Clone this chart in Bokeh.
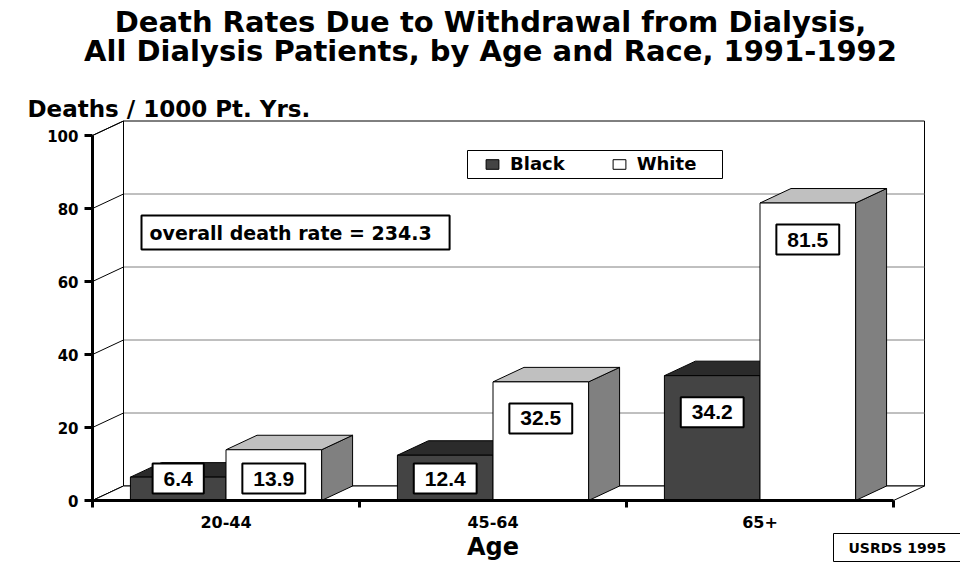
from bokeh.plotting import figure
from bokeh.models import (Range1d, FixedTicker, Label, Legend, LegendItem, LinearAxis)
from bokeh.embed import file_html
from bokeh.resources import INLINE

# ---------------- data ----------------
categories = ["20-44", "45-64", "65+"]
black_rates = [6.4, 12.4, 34.2]
white_rates = [13.9, 32.5, 81.5]
y_ticks = [0, 20, 40, 60, 80, 100]
series_names = ["Black", "White"]
title_line1 = "Death Rates Due to Withdrawal from Dialysis,"
title_line2 = "All Dialysis Patients, by Age and Race, 1991-1992"
y_title = "Deaths / 1000 Pt. Yrs."
x_title = "Age"
overall_text = "overall death rate = 234.3"
source_text = "USRDS 1995"

# ---------------- layout ----------------
W, H = 960, 567
ORIG_X, ORIG_Y = 92, 500   # pixel position of the axes' origin
PX_X = 267.0               # pixels per category
PX_Y = 3.65                # pixels per unit
n = len(categories)
Y_MAX = y_ticks[-1]
DX = 31 / PX_X             # depth offset (x)
DY = 14.5 / PX_Y           # depth offset (y)
GAP = 0.142
BW = (1 - 2 * GAP) / 2

FONT = "DejaVu Sans"
NUMFONT = "Liberation Sans"

def px_x(px):
    return (px - ORIG_X) / PX_X

def px_y(py):
    return (ORIG_Y - py) / PX_Y

p = figure(width=W, height=H, output_backend="svg", toolbar_location=None,
           x_range=Range1d(px_x(0), px_x(W)), y_range=Range1d(px_y(H), px_y(0)),
           min_border=0, x_axis_type=None, y_axis_type=None)
p.outline_line_color = None
p.background_fill_color = "white"
p.border_fill_color = "white"
p.xgrid.visible = False
p.ygrid.visible = False

# ---------------- 3D walls ----------------
p.quad(left=DX, right=n + DX, bottom=DY, top=Y_MAX + DY,
       fill_color="white", line_color="black", line_width=1)
p.segment(x0=[DX] * (len(y_ticks) - 2), x1=[n + DX] * (len(y_ticks) - 2),
          y0=[v + DY for v in y_ticks[1:-1]], y1=[v + DY for v in y_ticks[1:-1]],
          line_color="#808080", line_width=1)
p.patch(x=[0, DX, DX, 0], y=[0, DY, Y_MAX + DY, Y_MAX],
        fill_color="white", line_color="black", line_width=1)
p.segment(x0=[0] * len(y_ticks), x1=[DX] * len(y_ticks),
          y0=y_ticks, y1=[v + DY for v in y_ticks],
          line_color="black", line_width=1)
p.patch(x=[0, n, n + DX, DX], y=[0, 0, DY, DY],
        fill_color="white", line_color="black", line_width=1)

# ---------------- bars ----------------
def faces(vals, offset):
    fx, fy, tx, ty, sx, sy = [], [], [], [], [], []
    for i, v in enumerate(vals):
        x0 = i + GAP + offset * BW
        x1 = x0 + BW
        fx.append([x0, x1, x1, x0]); fy.append([0, 0, v, v])
        tx.append([x0, x1, x1 + DX, x0 + DX]); ty.append([v, v, v + DY, v + DY])
        sx.append([x1, x1 + DX, x1 + DX, x1]); sy.append([0, DY, v + DY, v])
    return fx, fy, tx, ty, sx, sy

bfx, bfy, btx, bty, bsx, bsy = faces(black_rates, 0)
wfx, wfy, wtx, wty, wsx, wsy = faces(white_rates, 1)

p.patches(xs=bsx, ys=bsy, fill_color="#1e1e1e", line_color="black", line_width=1)
p.patches(xs=btx, ys=bty, fill_color="#2b2b2b", line_color="black", line_width=1)
b_front = p.patches(xs=bfx, ys=bfy, fill_color="#444444", line_color="black", line_width=1)
p.patches(xs=wsx, ys=wsy, fill_color="#808080", line_color="black", line_width=1)
p.patches(xs=wtx, ys=wty, fill_color="#c0c0c0", line_color="black", line_width=1)
w_front = p.patches(xs=wfx, ys=wfy, fill_color="white", line_color="black", line_width=1)

# ---------------- axes (fixed at the origin) ----------------
yax = LinearAxis(ticker=FixedTicker(ticks=y_ticks), bounds=(0, Y_MAX), fixed_location=0)
yax.axis_line_width = 3
yax.axis_line_color = "black"
yax.major_tick_line_width = 3
yax.major_tick_line_color = "black"
yax.major_tick_out = 8
yax.major_tick_in = 0
yax.minor_tick_out = 0
yax.minor_tick_in = 0
yax.major_label_standoff = 6
yax.major_label_text_font = FONT
yax.major_label_text_font_style = "bold"
yax.major_label_text_font_size = "15px"
yax.major_label_text_color = "black"
p.add_layout(yax, "left")

xax = LinearAxis(ticker=FixedTicker(ticks=[i + 0.5 for i in range(n)],
                                    minor_ticks=list(range(n + 1))),
                 bounds=(0, n), fixed_location=0)
xax.major_label_overrides = {i + 0.5: c for i, c in enumerate(categories)}
xax.axis_line_width = 3
xax.axis_line_color = "black"
xax.major_tick_out = 0
xax.major_tick_in = 0
xax.minor_tick_out = 7
xax.minor_tick_in = 0
xax.minor_tick_line_width = 3
xax.minor_tick_line_color = "black"
xax.major_label_standoff = 8
xax.major_label_text_font = FONT
xax.major_label_text_font_style = "bold"
xax.major_label_text_font_size = "16px"
xax.major_label_text_color = "black"
xax.axis_label = x_title
xax.axis_label_text_font = FONT
xax.axis_label_text_font_style = "bold"
xax.axis_label_text_font_size = "24px"
xax.axis_label_text_color = "black"
xax.axis_label_standoff = 2
p.add_layout(xax, "below")

# ---------------- value labels ----------------
for k, vals in enumerate([black_rates, white_rates]):
    for i, v in enumerate(vals):
        p.add_layout(Label(x=i + GAP + k * BW + BW / 2, y=max(v - 10, 6),
                           text=f"{v:.1f}", text_align="center",
                           text_baseline="middle", text_font=NUMFONT,
                           text_font_style="bold", text_font_size="21px",
                           text_color="black", background_fill_color="white",
                           border_line_color="black", border_line_width=2,
                           padding=dict(left=11, right=11, top=8, bottom=8)))

# ---------------- legend ----------------
p.quad(left=px_x(467), right=px_x(722), bottom=px_y(178), top=px_y(150),
       fill_color="white", line_color="black", line_width=1)
legend = Legend(items=[LegendItem(label=series_names[0], renderers=[b_front]),
                       LegendItem(label=series_names[1], renderers=[w_front])],
                orientation="horizontal", location=(484, H - 174))
legend.border_line_color = None
legend.background_fill_alpha = 0
legend.label_text_font = FONT
legend.label_text_font_style = "bold"
legend.label_text_font_size = "18px"
legend.label_text_color = "black"
legend.label_height = 20
legend.glyph_width = 16
legend.glyph_height = 12
legend.label_standoff = 10
legend.spacing = 46
legend.padding = 0
legend.margin = 0
p.add_layout(legend)

# ---------------- text annotations ----------------
p.add_layout(Label(x=px_x(141), y=px_y(232), text=overall_text,
                   text_baseline="middle", text_font=FONT, text_font_style="bold",
                   text_font_size="19px", text_color="black",
                   background_fill_color="white",
                   border_line_color="black", border_line_width=2,
                   padding=dict(left=8, right=18, top=6, bottom=6)))

def text_label(px, py, text, size, align="left", baseline="alphabetic", **kw):
    p.add_layout(Label(x=px_x(px), y=px_y(py), text=text, text_align=align,
                       text_baseline=baseline, text_font=FONT,
                       text_font_style="bold", text_font_size=size,
                       text_color="black", **kw))

text_label(490, 21, title_line1, "29px", align="center")
text_label(490, 50, title_line2, "29px", align="center")
text_label(27, 108, y_title, "23px")
text_label(833, 547, source_text, "14px", baseline="middle",
           background_fill_color="white", border_line_color="black",
           border_line_width=1, padding=dict(left=15, right=18, top=6, bottom=6))

open("out.html", "w").write(file_html(p, INLINE))
